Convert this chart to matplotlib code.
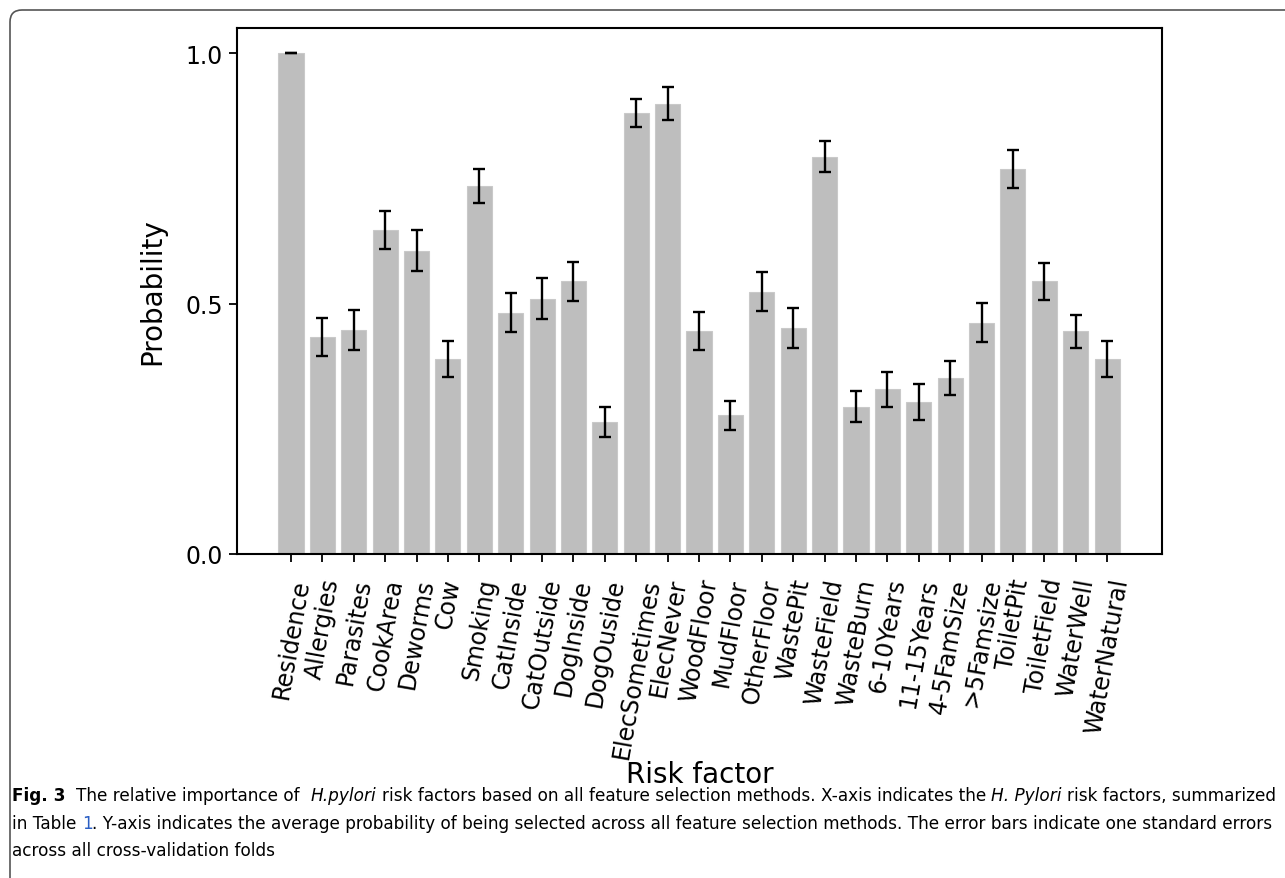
import matplotlib
matplotlib.use("Agg")
import matplotlib.pyplot as plt
from matplotlib import font_manager
from matplotlib.patches import FancyBboxPatch
from matplotlib.transforms import IdentityTransform
import numpy as np

# risk factors, mean selection probability and standard error
factors = ["Residence", "Allergies", "Parasites", "CookArea", "Deworms", "Cow",
           "Smoking", "CatInside", "CatOutside", "DogInside", "DogOuside",
           "ElecSometimes", "ElecNever", "WoodFloor", "MudFloor", "OtherFloor",
           "WastePit", "WasteField", "WasteBurn", "6-10Years", "11-15Years",
           "4-5FamSize", ">5Famsize", "ToiletPit", "ToiletField", "WaterWell",
           "WaterNatural"]
probs = [1.0, 0.434, 0.448, 0.646, 0.605, 0.390, 0.735, 0.482, 0.510, 0.544,
         0.263, 0.881, 0.899, 0.445, 0.277, 0.524, 0.452, 0.793, 0.294, 0.329,
         0.304, 0.352, 0.462, 0.769, 0.544, 0.445, 0.390]
errs = [0.0, 0.038, 0.040, 0.038, 0.041, 0.036, 0.034, 0.039, 0.040, 0.039,
        0.030, 0.028, 0.033, 0.038, 0.029, 0.038, 0.040, 0.031, 0.031, 0.035,
        0.036, 0.034, 0.039, 0.038, 0.036, 0.033, 0.036]
yticks = [0.0, 0.5, 1.0]

W, H = 1285, 879
fig = plt.figure(figsize=(W / 100, H / 100), dpi=100)
fig.patch.set_facecolor("white")

# axes placed in pixel terms of the reference
left, right, top, bottom = 237, 1162, 29, 555
ax = fig.add_axes([left / W, 1 - bottom / H, (right - left) / W, (bottom - top) / H])

x = np.arange(len(factors))
ax.bar(x, probs, width=0.8, color="#bebebe", edgecolor="#c9c9c9", linewidth=0.8)
ax.errorbar(x, probs, yerr=errs, fmt="none", ecolor="black", elinewidth=1.7,
            capsize=4.3, capthick=1.7)

ax.set_xlim(-1.72, 27.75)
ax.set_ylim(0, 1.05)
ax.set_yticks(yticks)
ax.set_yticklabels(["%.1f" % v for v in yticks], fontsize=17)
ax.set_xticks(x)
ax.set_xticklabels(factors, rotation=80, ha="center", fontsize=17)
ax.tick_params(axis="x", length=6, width=1.3, pad=10)
ax.tick_params(axis="y", length=6, width=1.3, pad=4)
for sp in ax.spines.values():
    sp.set_linewidth(1.5)

ax.set_ylabel("Probability", fontsize=20)
ax.yaxis.set_label_coords(-0.076, 0.5)
ax.set_xlabel("Risk factor", fontsize=20)
ax.xaxis.label.set_va("center")
ax.xaxis.set_label_coords(0.5, (bottom - 775) / (bottom - top))

# rounded frame around the figure panel (runs off right and bottom edge)
frame = FancyBboxPatch((10, -30), W + 30, H - 11 + 30,
                       boxstyle="round,pad=0,rounding_size=12",
                       transform=IdentityTransform(), fill=False,
                       edgecolor="#555555", linewidth=1.2)
fig.patches.append(frame)

# caption, built piece by piece so bold/italic/link runs line up
try:
    font_manager.findfont("Liberation Sans Narrow", fallback_to_default=False)
    cap_family = "Liberation Sans Narrow"
except Exception:
    cap_family = "DejaVu Sans"

lines = [
    [("Fig. 3", "bold", "normal", "black"),
     ("  The relative importance of  ", "normal", "normal", "black"),
     ("H.pylori", "normal", "italic", "black"),
     (" risk factors based on all feature selection methods. X-axis indicates the ", "normal", "normal", "black"),
     ("H. Pylori", "normal", "italic", "black"),
     (" risk factors, summarized", "normal", "normal", "black")],
    [("in Table ", "normal", "normal", "black"),
     ("1", "normal", "normal", "#2b5fc4"),
     (". Y-axis indicates the average probability of being selected across all feature selection methods. The error bars indicate one standard errors", "normal", "normal", "black")],
    [("across all cross-validation folds", "normal", "normal", "black")],
]
line_y = [796, 824, 851]

renderer = fig.canvas.get_renderer()


def piece_width(s, size, weight, style):
    # measure with bars around it so leading/trailing spaces count
    t1 = fig.text(0, 0, "|" + s + "|", family=cap_family, size=size, weight=weight, style=style)
    t2 = fig.text(0, 0, "||", family=cap_family, size=size, weight=weight, style=style)
    w = t1.get_window_extent(renderer).width - t2.get_window_extent(renderer).width
    t1.remove()
    t2.remove()
    return w


def line_width(pieces, size):
    return sum(piece_width(p[0], size, p[1], p[2]) for p in pieces)


cap_size = 12.0
cap_size = cap_size * (1258 / line_width(lines[1], cap_size))

for pieces, yy in zip(lines, line_y):
    xpos = 12
    for s, weight, style, col in pieces:
        lead = len(s) - len(s.lstrip(" "))
        w = piece_width(s, cap_size, weight, style)
        off = piece_width(s[:lead], cap_size, weight, style) if lead else 0
        fig.text((xpos + off) / W, 1 - yy / H, s.strip(" "), family=cap_family,
                 size=cap_size, weight=weight, style=style, color=col,
                 ha="left", va="center")
        xpos += w

fig.savefig("out.png", dpi=100)
